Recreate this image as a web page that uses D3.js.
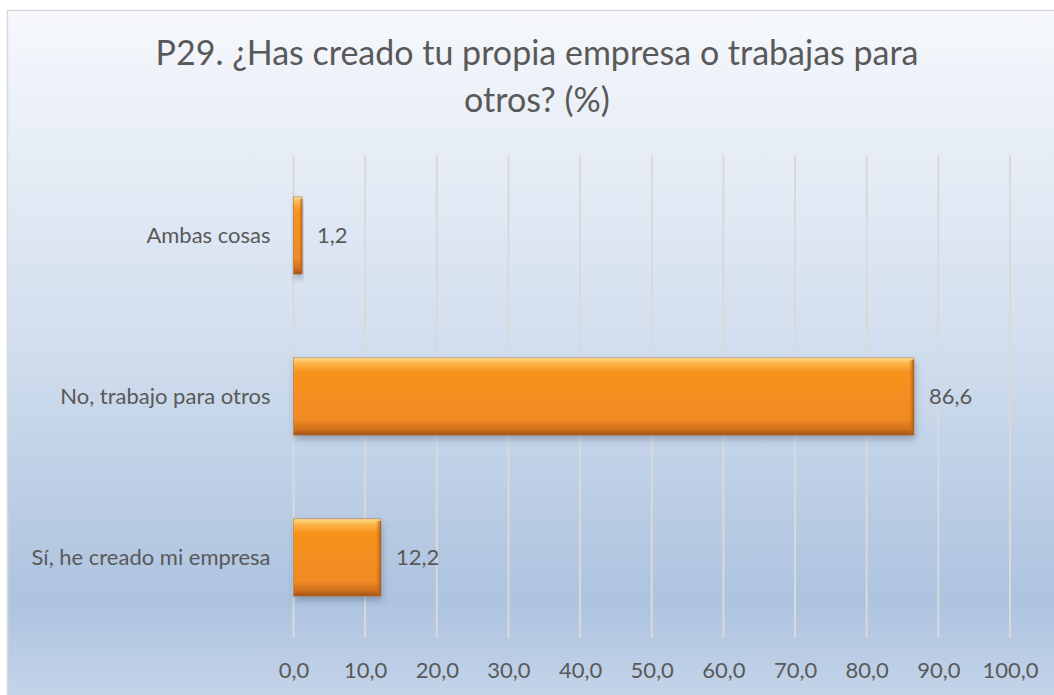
<!DOCTYPE html>
<html lang="es">
<head>
    <meta charset="utf-8">
    <style>
        body { margin: 0; background: #fff; }
        svg { display: block; }
        text { font-family: Lato, "Open Sans", sans-serif; fill: #595959; }
    </style>
</head>
<body>
    <svg width="1054" height="695"></svg>
    <script src="https://cdn.jsdelivr.net/npm/d3@7"></script>
    <script>
        // Data
        const categories = ["Ambas cosas", "No, trabajo para otros", "Sí, he creado mi empresa"];
        const values = [1.2, 86.6, 12.2];
        const tickValues = [0, 10, 20, 30, 40, 50, 60, 70, 80, 90, 100];
        const titleLines = ["P29. ¿Has creado tu propia empresa o trabajas para", "otros? (%)"];

        const svg = d3.select("svg");
        const W = 1054, H = 695;
        const fmt = v => d3.format(".1f")(v).replace(".", ",");

        const defs = svg.append("defs");

        // Chart background gradient
        const bg = defs.append("linearGradient").attr("id", "bg")
            .attr("x1", 0).attr("y1", 0).attr("x2", 0).attr("y2", 1);
        bg.append("stop").attr("offset", "0%").attr("stop-color", "#f6f8fc");
        bg.append("stop").attr("offset", "45%").attr("stop-color", "#d4e0ef");
        bg.append("stop").attr("offset", "85%").attr("stop-color", "#adc3df");
        bg.append("stop").attr("offset", "100%").attr("stop-color", "#c6d6ea");

        // Bevelled orange bar
        const bar = defs.append("linearGradient").attr("id", "bar")
            .attr("x1", 0).attr("y1", 0).attr("x2", 0).attr("y2", 1);
        [["0%", "#fde08a"], ["7%", "#fbb44a"], ["18%", "#f7931e"], ["80%", "#f08a22"],
         ["93%", "#cf6e1a"], ["100%", "#9c5418"]].forEach(([o, c]) =>
            bar.append("stop").attr("offset", o).attr("stop-color", c));

        const edge = defs.append("linearGradient").attr("id", "edge")
            .attr("x1", 0).attr("y1", 0).attr("x2", 1).attr("y2", 0);
        edge.append("stop").attr("offset", "0%").attr("stop-color", "#d9731c").attr("stop-opacity", 0);
        edge.append("stop").attr("offset", "100%").attr("stop-color", "#a85a16").attr("stop-opacity", 1);

        const shadow = defs.append("filter").attr("id", "shadow")
            .attr("x", "-20%").attr("y", "-20%").attr("width", "140%").attr("height", "150%");
        shadow.append("feDropShadow").attr("dx", 1).attr("dy", 4).attr("stdDeviation", 3)
            .attr("flood-color", "#3a4a60").attr("flood-opacity", 0.35);

        svg.append("rect")
            .attr("x", 7.5).attr("y", 10.5).attr("width", W).attr("height", H)
            .attr("fill", "url(#bg)").attr("stroke", "#d9d9d9").attr("stroke-width", 1.5);

        // Title
        svg.append("text")
            .attr("x", 537).attr("y", 65)
            .attr("text-anchor", "middle")
            .style("font-size", "34px")
            .selectAll("tspan").data(titleLines).enter()
            .append("tspan")
            .attr("x", 537)
            .attr("dy", (d, i) => i === 0 ? 0 : 47)
            .text(d => d);

        // Scales
        const x = d3.scaleLinear().domain([0, 100]).range([293.5, 1010]);
        const y = d3.scaleBand().domain(categories).range([155, 638])
            .paddingInner(0.52).paddingOuter(0.26);

        // Gridlines
        svg.append("g").selectAll("line").data(tickValues).enter()
            .append("line")
            .attr("x1", d => x(d)).attr("x2", d => x(d))
            .attr("y1", 155).attr("y2", 638)
            .attr("stroke", "#d9d9d9").attr("stroke-width", 2);

        // X axis labels
        const xAxis = svg.append("g")
            .attr("transform", `translate(0, 638)`)
            .call(d3.axisBottom(x).tickValues(tickValues).tickFormat(fmt).tickSize(0).tickPadding(24));
        xAxis.select(".domain").remove();
        xAxis.selectAll("text").style("font-size", "22px").attr("fill", "#595959");
        xAxis.attr("font-family", null);

        // Category labels
        const yAxis = svg.append("g")
            .attr("transform", `translate(${x(0)}, 0)`)
            .call(d3.axisLeft(y).tickSize(0).tickPadding(23));
        yAxis.select(".domain").remove();
        yAxis.selectAll("text").style("font-size", "22px").attr("fill", "#595959");
        yAxis.attr("font-family", null);

        // Bars
        const rows = categories.map((c, i) => ({ c, v: values[i] }));
        const g = svg.append("g").selectAll("g").data(rows).enter().append("g");
        g.append("rect")
            .attr("x", x(0)).attr("y", d => y(d.c))
            .attr("width", d => x(d.v) - x(0)).attr("height", y.bandwidth())
            .attr("fill", "url(#bar)")
            .attr("stroke", "#b07a50").attr("stroke-width", 0.6)
            .attr("filter", "url(#shadow)");
        g.append("rect")
            .attr("x", d => x(d.v) - Math.min(5, (x(d.v) - x(0)) / 3))
            .attr("y", d => y(d.c) + 2)
            .attr("width", d => Math.min(5, (x(d.v) - x(0)) / 3))
            .attr("height", y.bandwidth() - 3)
            .attr("fill", "url(#edge)");

        // Value labels
        g.append("text")
            .attr("x", d => x(d.v) + 15)
            .attr("y", d => y(d.c) + y.bandwidth() / 2)
            .attr("dy", "0.35em")
            .style("font-size", "22px")
            .text(d => fmt(d.v));
    </script>
</body>
</html>
